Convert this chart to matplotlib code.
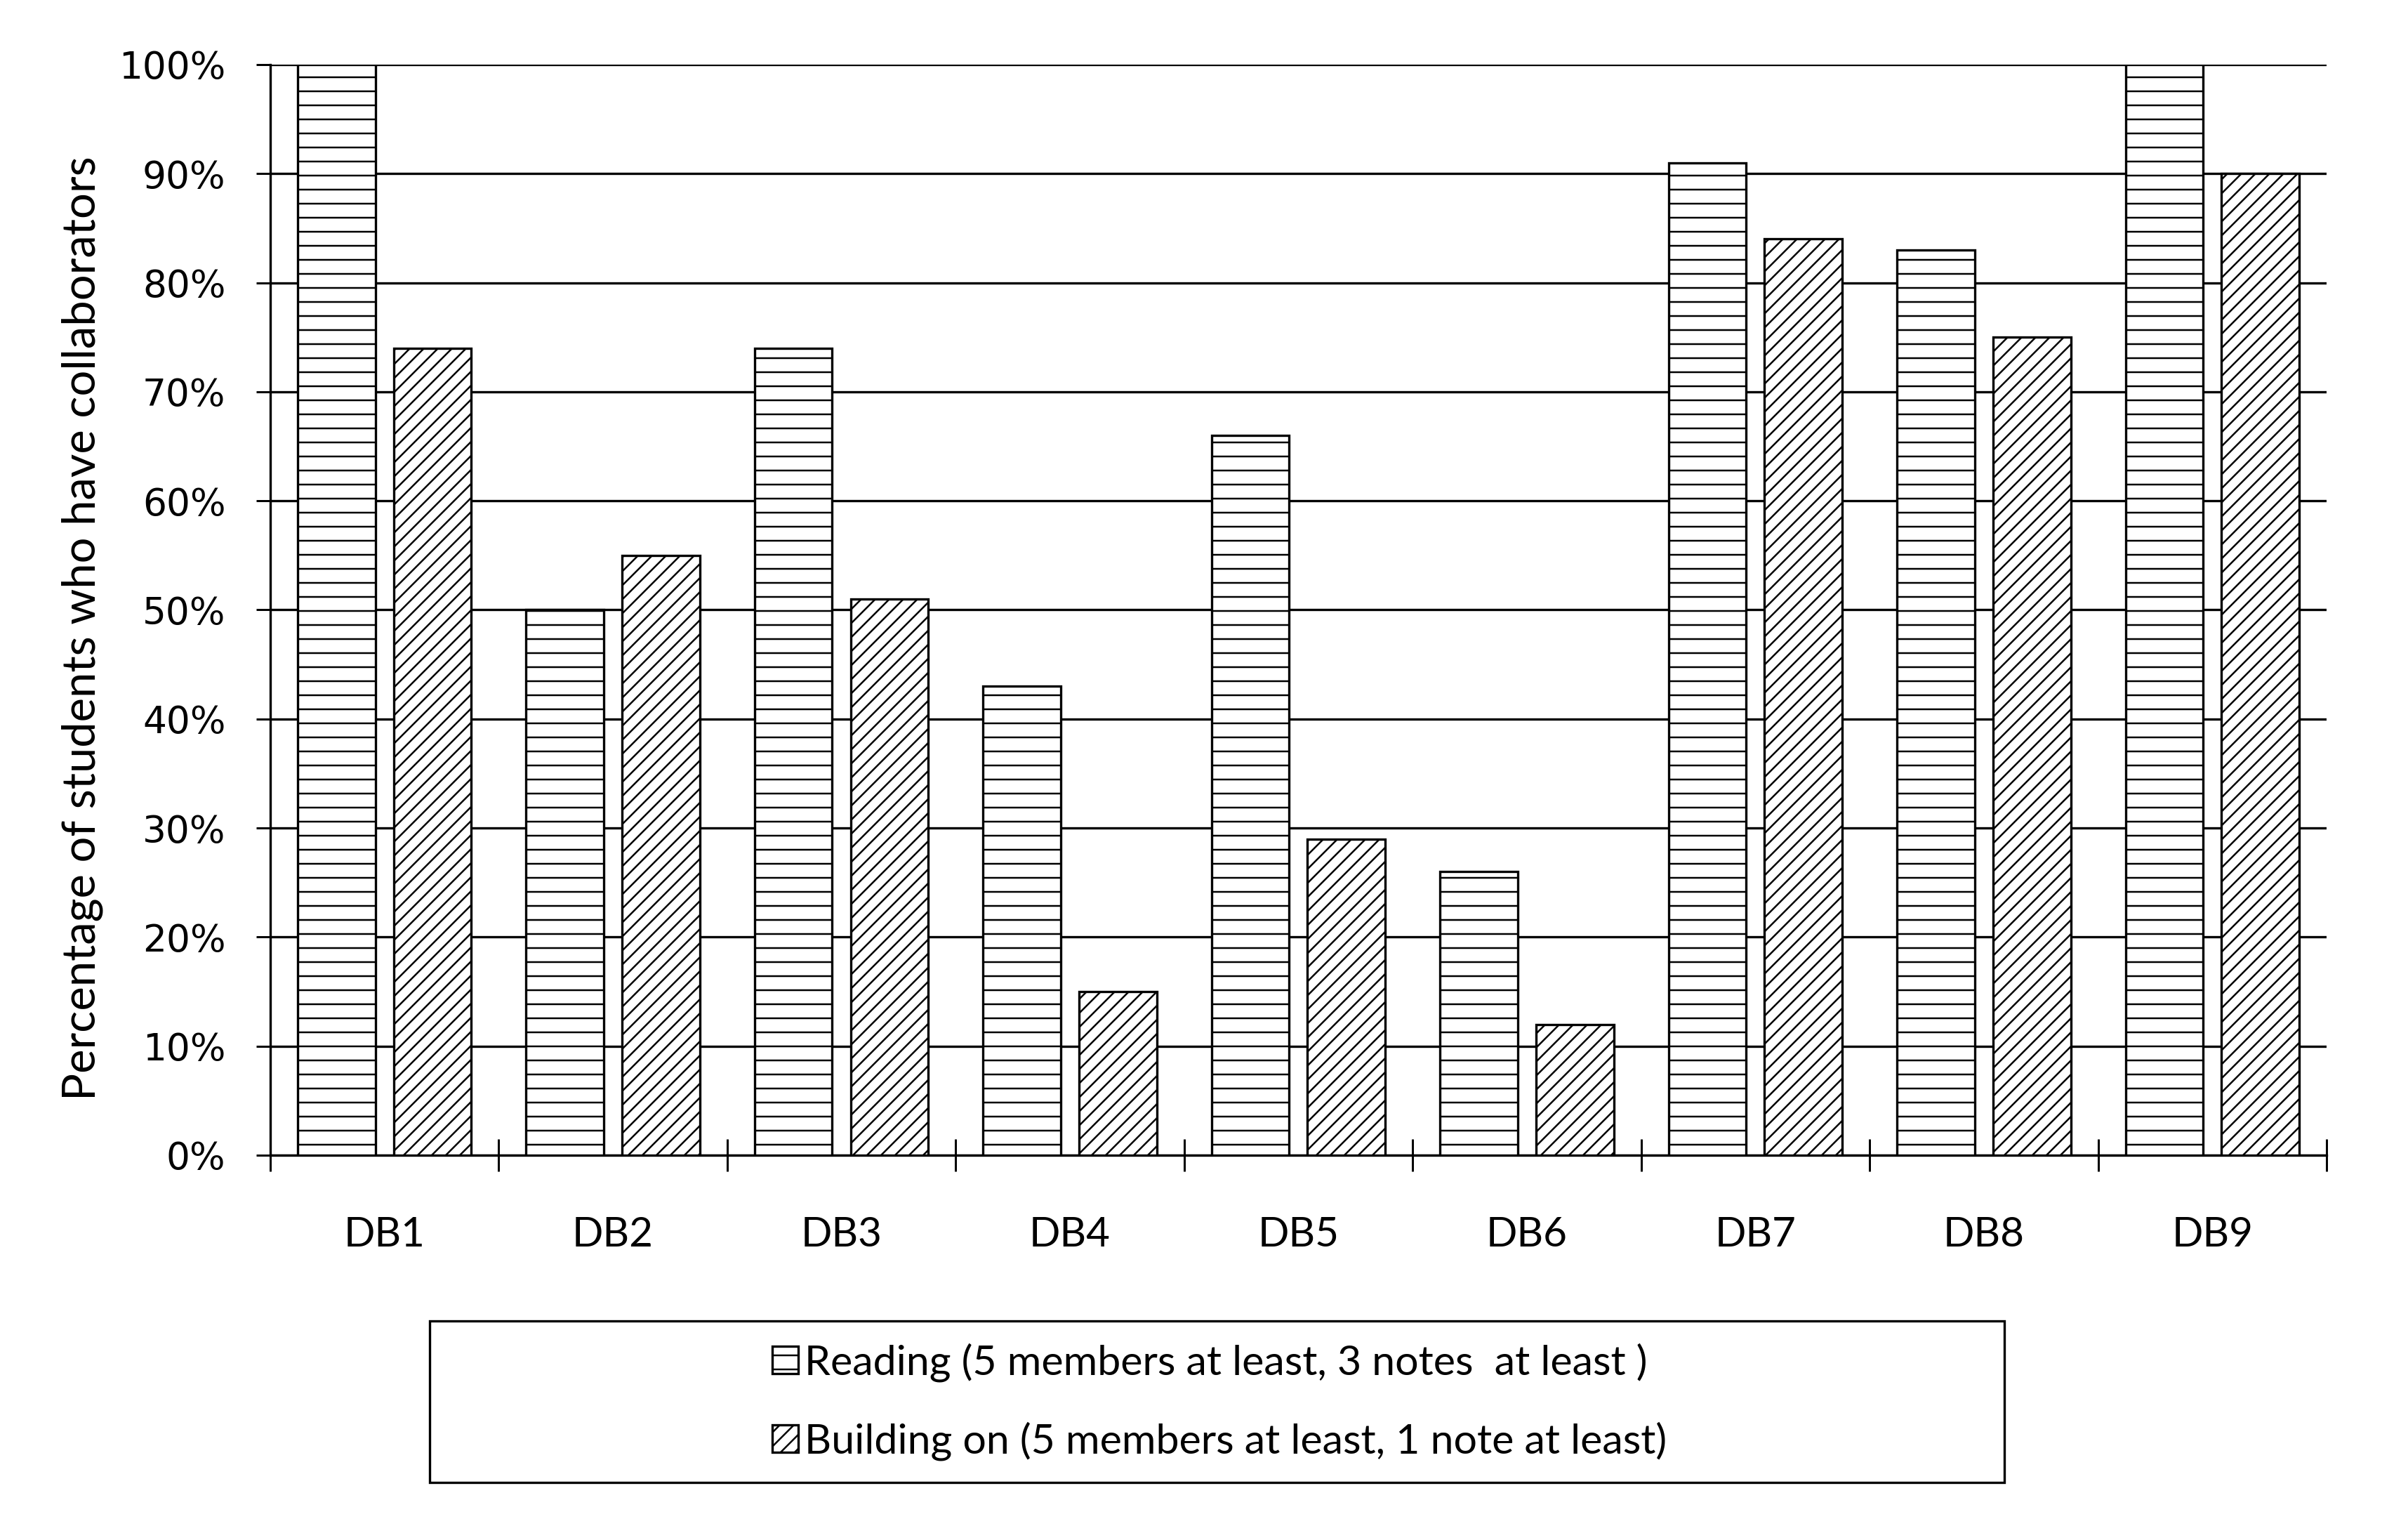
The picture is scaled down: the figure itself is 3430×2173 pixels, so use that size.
import numpy as np
import matplotlib.pyplot as plt
from matplotlib.patches import Rectangle
from matplotlib.ticker import FixedLocator, PercentFormatter

# values (fraction of students)
categories = ["DB1", "DB2", "DB3", "DB4", "DB5", "DB6", "DB7", "DB8", "DB9"]
reading = [1.00, 0.50, 0.74, 0.43, 0.66, 0.26, 0.91, 0.83, 1.00]
building_on = [0.74, 0.55, 0.51, 0.15, 0.29, 0.12, 0.84, 0.75, 0.90]
series_labels = ["Reading (5 members at least, 3 notes  at least )",
                 "Building on (5 members at least, 1 note at least)"]

DPI = 120
plt.rcParams['hatch.linewidth'] = 1.5
plt.rcParams['hatch.color'] = 'black'

fig = plt.figure(figsize=(3430 / DPI, 2173.01 / DPI), dpi=DPI)
ax = fig.add_axes([0.1122, 0.2430, 0.9662 - 0.1122, 0.9577 - 0.2430])

x = np.arange(len(categories))
width = 0.34
offset = 0.21
bar_kw = dict(color='white', edgecolor='black', linewidth=2.0, zorder=3)
b1 = ax.bar(x - offset, reading, width, hatch='-', label=series_labels[0], **bar_kw)
b2 = ax.bar(x + offset, building_on, width, hatch='//', label=series_labels[1], **bar_kw)

ax.set_xlim(-0.5, len(categories) - 0.5)
ax.set_ylim(0, 1.0)

# y axis: percent ticks, black horizontal gridlines
ax.set_yticks(np.arange(0, 1.01, 0.1))
ax.yaxis.set_major_formatter(PercentFormatter(1.0, decimals=0))
ax.tick_params(axis='y', direction='out', length=12, width=1.8, pad=26,
               labelsize=32)
for lab in ax.get_yticklabels():
    lab.set_family('DejaVu Sans')
ax.yaxis.grid(True, color='black', linewidth=2.0, zorder=0)
ax.set_axisbelow(True)

# x axis: tick marks on category boundaries, labels at centers
ax.xaxis.set_major_locator(FixedLocator(np.arange(len(categories) + 1) - 0.5))
ax.xaxis.set_minor_locator(FixedLocator(x))
ax.set_xticklabels([], minor=False)
ax.set_xticklabels(categories, minor=True, family='Lato', fontsize=35)
ax.tick_params(axis='x', which='major', direction='inout', length=28, width=1.8)
ax.tick_params(axis='x', which='minor', length=0, pad=52)

for side in ['top', 'right']:
    ax.spines[side].set_visible(False)
for side in ['left', 'bottom']:
    ax.spines[side].set_linewidth(2.0)
    ax.spines[side].set_color('black')

ax.set_ylabel("Percentage of students who have collaborators", family='Lato',
              fontsize=39, va='center')
ax.yaxis.set_label_coords(-0.0915, 0.483)

# legend box drawn as a separate frame, legend entries centered in it
x0, x1 = 612 / 3430, 2855 / 3430
y0, y1 = 1 - 2111 / 2173, 1 - 1881 / 2173
fig.patches.append(Rectangle((x0, y0), x1 - x0, y1 - y0, transform=fig.transFigure,
                             facecolor='white', edgecolor='black', linewidth=2.0))
fig.legend(handles=[b1, b2], loc='center', bbox_to_anchor=((x0 + x1) / 2 + 0.001, (y0 + y1) / 2),
           frameon=False, prop={'family': 'Lato', 'size': 35.5},
           handlelength=0.62, handleheight=0.62, handletextpad=0.15,
           labelspacing=0.95)

fig.savefig("out.png", dpi=DPI)
